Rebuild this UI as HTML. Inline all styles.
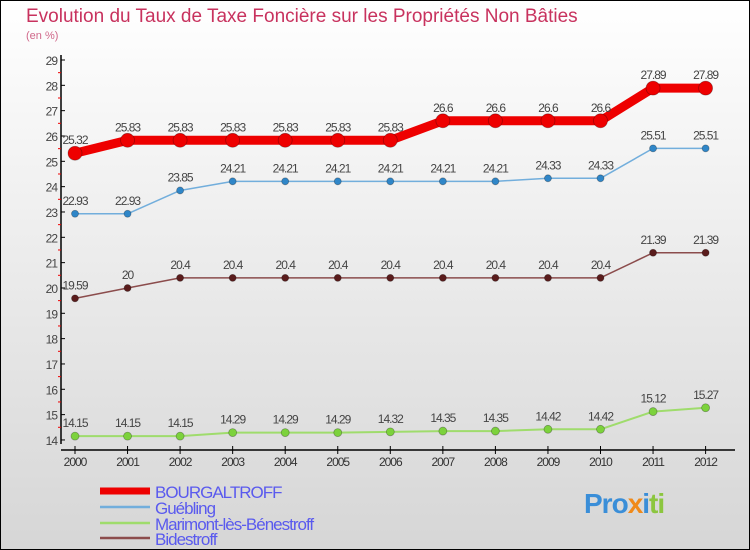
<!DOCTYPE html>
<html><head><meta charset="utf-8"><style>
html,body{margin:0;padding:0}
body{width:750px;height:550px;overflow:hidden;font-family:"Liberation Sans",sans-serif}
</style></head><body>
<svg id="chart" width="750" height="550" xmlns="http://www.w3.org/2000/svg" style="display:block">
<defs><linearGradient id="bg" x1="0" y1="0" x2="0" y2="1"><stop offset="0" stop-color="#ffffff"/><stop offset="1" stop-color="#d6d6d6"/></linearGradient></defs>
<rect x="0.5" y="0.5" width="749" height="549" fill="url(#bg)" stroke="#000" stroke-width="1"/>
<text x="26" y="22" font-size="19" fill="#c8325e">Evolution du Taux de Taxe Foncière sur les Propriétés Non Bâties</text>
<text x="26" y="39" font-size="11" fill="#d0688a">(en %)</text>
<g id="axes"></g><g id="series"></g><g id="legend"></g>
</svg>
<script>
const years=["2000","2001","2002","2003","2004","2005","2006","2007","2008","2009","2010","2011","2012"];
const bourg=[25.32,25.83,25.83,25.83,25.83,25.83,25.83,26.6,26.6,26.6,26.6,27.89,27.89];
const gueb=[22.93,22.93,23.85,24.21,24.21,24.21,24.21,24.21,24.21,24.33,24.33,25.51,25.51];
const mari=[14.15,14.15,14.15,14.29,14.29,14.29,14.32,14.35,14.35,14.42,14.42,15.12,15.27];
const bide=[19.59,20,20.4,20.4,20.4,20.4,20.4,20.4,20.4,20.4,20.4,21.39,21.39];
const yTicks=[14,15,16,17,18,19,20,21,22,23,24,25,26,27,28,29];
const names=["BOURGALTROFF","Guébling","Marimont-lès-Bénestroff","Bidestroff"];
const NS="http://www.w3.org/2000/svg";
const X=i=>75+i*52.55, Y=v=>60+(29-v)*25.33;
function mk(p,t,a){const e=document.createElementNS(NS,t);for(const k in a)e.setAttribute(k,a[k]);p.appendChild(e);return e;}
const ax=document.getElementById('axes');
let l=mk(ax,'line',{x1:61,y1:55,x2:61,y2:444,stroke:'#000','stroke-width':1.5});


l=mk(ax,'line',{x1:61,y1:450,x2:735,y2:450,stroke:'#000','stroke-width':1.5});


yTicks.forEach(v=>{
  mk(ax,'line',{x1:61,y1:Y(v),x2:65,y2:Y(v),stroke:'#000'});
  if(v<29){mk(ax,'line',{x1:58,y1:Y(v+0.5),x2:61,y2:Y(v+0.5),stroke:'#e00'});}
  const t=mk(ax,'text',{x:57,y:Y(v)+5,'text-anchor':'end','font-size':12,fill:'#444','letter-spacing':'-1'});
  
  
  t.textContent=v;
});
years.forEach((y,i)=>{
  mk(ax,'line',{x1:X(i),y1:446,x2:X(i),y2:454,stroke:'#000'});
  const t=mk(ax,'text',{x:X(i),y:466,'text-anchor':'middle','font-size':12,fill:'#333','letter-spacing':'-1'});
  
  
  t.textContent=y;
});
const sg=document.getElementById('series');
function series(vals,color,lw,r,dot,name){
  const g=mk(sg,'g',{});
  
  
  mk(g,'polyline',{points:vals.map((v,i)=>X(i)+','+Y(v)).join(' '),fill:'none',stroke:color,'stroke-width':lw,'stroke-linejoin':'round'});
  vals.forEach((v,i)=>{
    const c=mk(g,'circle',{cx:X(i),cy:Y(v),r:r,fill:dot,stroke:'rgba(0,0,0,0.3)','stroke-width':0.8});
    
    
    const t=mk(g,'text',{x:X(i),y:Y(v)-9,'text-anchor':'middle','font-size':12,fill:'#444','letter-spacing':'-1'});
    
    
    t.textContent=v;
  });
}
series(mari,'#9fdc6c',2,4,'#7cd23c','series-marimont');
series(bide,'#8b4c4c',1.5,3.5,'#5a1c1c','series-bidestroff');
series(gueb,'#72aedc',1.5,3.5,'#2f86c8','series-guebling');
series(bourg,'#ee0000',9,7,'#ee0000','series-bourgaltroff');
const lg=document.getElementById('legend');
const lc=['#ee0000','#72aedc','#9fdc6c','#8b4c4c'], lw=[7,2.5,2.5,2.5], ly=[491,507,523,538];
names.forEach((n,i)=>{
  const g=mk(lg,'g',{});
  
  
  mk(g,'line',{x1:100,y1:ly[i],x2:150,y2:ly[i],stroke:lc[i],'stroke-width':lw[i]});
  const t=mk(g,'text',{x:155,y:ly[i]+7,'font-size':17,fill:'#5a5aee','letter-spacing':'-1'});
  t.textContent=n;
});
</script>
<div style="position:absolute;left:584px;top:488px;font:bold 28px 'Liberation Sans',sans-serif;letter-spacing:-1px"><span style="color:#3a8ed8">Pro</span><span style="color:#f08a1a">x</span><span style="color:#3a8ed8">i</span><span style="color:#8cc63f">ti</span></div>
</body></html>
